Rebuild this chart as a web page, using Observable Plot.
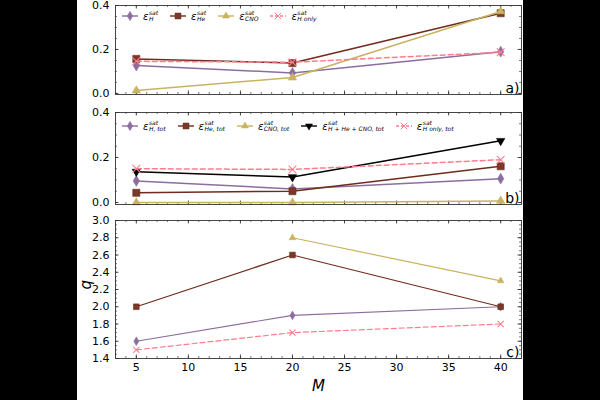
<!DOCTYPE html>
<html><head><meta charset="utf-8">
<script src="https://cdn.jsdelivr.net/npm/d3@7"></script>
<script src="https://cdn.jsdelivr.net/npm/@observablehq/plot@0.6"></script>
<style>
html,body{margin:0;padding:0;background:#000;width:600px;height:400px;overflow:hidden;}
#fig{position:absolute;left:77px;top:0;width:446px;height:400px;background:#fff;font-family:"DejaVu Sans",sans-serif;}
#fig svg{position:absolute;left:0;overflow:visible;}
.legend{position:absolute;left:45px;display:flex;align-items:center;gap:12px;}
.item{display:flex;align-items:center;gap:5px;}
.lab{display:inline-flex;align-items:center;font-style:italic;font-size:10px;color:#000;}
.ss{display:inline-flex;flex-direction:column;font-size:6px;line-height:6px;margin-left:0.5px;}
</style></head>
<body><div id="fig"></div>
<script>
// ---- data ----
const M = [5, 20, 40];
const xTicks = [5, 10, 15, 20, 25, 30, 35, 40];
const yTicksAB = [0.0, 0.2, 0.4];
const yTicksC = [1.4, 1.6, 1.8, 2.0, 2.2, 2.4, 2.6, 2.8, 3.0];

// panel a: epsilon^sat
const epsH     = [0.127, 0.093, 0.190];
const epsHe    = [0.157, 0.138, 0.365];
const epsCNO   = [0.013, 0.072, 0.373];
const epsHonly = [0.146, 0.142, 0.187];
// panel b: epsilon^sat_tot
const epsHtot     = [0.096, 0.060, 0.106];
const epsHetot    = [0.043, 0.050, 0.161];
const epsCNOtot   = [0.000, 0.000, 0.007];
const epsAlltot   = [0.137, 0.113, 0.274];
const epsHonlytot = [0.150, 0.147, 0.190];
// panel c: q
const qH     = [1.6, 1.9, 2.0];
const qHe    = [2.0, 2.6, 2.0];
const qCNO   = [null, 2.8, 2.3];
const qHonly = [1.5, 1.7, 1.8];

// ---- styles ----
const downTriangle = {draw(ctx, size){
  const y = -Math.sqrt(size / (Math.sqrt(3) * 3));
  ctx.moveTo(0, -y * 2);
  ctx.lineTo(-Math.sqrt(3) * y, y);
  ctx.lineTo(Math.sqrt(3) * y, y);
  ctx.closePath();
}};
const symbols = {diamond:d3.symbolDiamond, square:d3.symbolSquare, triangle:d3.symbolTriangle, times:d3.symbolTimes, down:downTriangle};
const sH    = {color:"#8c6e9e", symbol:"diamond", r:3.3};
const sHe   = {color:"#6e2c1d", fillc:"#7a3828", symbol:"square", r:4};
const sCNO  = {color:"#c8b35f", symbol:"triangle", r:3.1};
const sAll  = {color:"#000000", symbol:"down", r:3.1};
const sHon  = {color:"#ff7d8e", symbol:"times", r:3.6, hollow:true, dash:"5,3"};

const W = 446, ML = 38, MR = 2;
const fig = document.getElementById("fig");

function panel(o){
  const iw = W - ML - MR, ih = o.height - o.mt - o.mb;
  const tc = "#222", tw = 0.8;
  const marks = [];
  const xMinor = d3.range(4, 42);
  // inward ticks on all sides
  marks.push(Plot.tickX(xTicks, {x:d=>d, insetTop: ih-3.5, stroke:tc, strokeWidth:tw}));
  marks.push(Plot.tickX(xTicks, {x:d=>d, insetBottom: ih-3.5, stroke:tc, strokeWidth:tw}));
  marks.push(Plot.tickX(xMinor, {x:d=>d, insetTop: ih-2, stroke:tc, strokeWidth:0.6}));
  marks.push(Plot.tickX(xMinor, {x:d=>d, insetBottom: ih-2, stroke:tc, strokeWidth:0.6}));
  marks.push(Plot.tickY(o.yTicks, {y:d=>d, insetRight: iw-3.5, stroke:tc, strokeWidth:tw}));
  marks.push(Plot.tickY(o.yTicks, {y:d=>d, insetLeft: iw-3.5, stroke:tc, strokeWidth:tw}));
  marks.push(Plot.tickY(o.yMinor, {y:d=>d, insetRight: iw-2, stroke:tc, strokeWidth:0.6}));
  marks.push(Plot.tickY(o.yMinor, {y:d=>d, insetLeft: iw-2, stroke:tc, strokeWidth:0.6}));
  for (const s of o.series){
    const rows = M.map((m,i)=>({M:m, v:s.values[i]}));
    marks.push(Plot.line(rows, {x:"M", y:"v", stroke:s.color, strokeWidth:o.sw, strokeDasharray:s.dash}));
    const pts = rows.filter(d=>d.v!=null);
    marks.push(Plot.dot(pts, {x:"M", y:"v", symbol:symbols[s.symbol], r:s.r*o.rs,
      fill: s.hollow ? "none" : (s.fillc || s.color), stroke:s.color, strokeWidth: s.hollow ? 1.1 : 0.6}));
  }
  marks.push(Plot.frame({stroke:"#333", strokeWidth:0.9}));
  marks.push(Plot.axisY(o.yTicks, {tickSize:0, tickPadding:6, tickFormat:d3.format(".1f"), fontSize:11, label:null}));
  if (o.xLabels){
    marks.push(Plot.axisX(xTicks, {tickSize:0, tickPadding:5, fontSize:11, label:null}));
    marks.push(Plot.text(["M"], {frameAnchor:"bottom", dy:28, fontSize:15, fontStyle:"italic", lineAnchor:"middle"}));
    marks.push(Plot.text(["q"], {frameAnchor:"left", dx:-29, rotate:-90, fontSize:15, fontStyle:"italic"}));
  }
  marks.push(Plot.text([o.label], {frameAnchor:"bottom-right", dx:-2, dy:-2, fontSize:14, textAnchor:"end", lineAnchor:"bottom"}));
  const svg = Plot.plot({
    width: W, height: o.height,
    marginLeft: ML, marginRight: MR, marginTop: o.mt, marginBottom: o.mb,
    style: {fontFamily:"DejaVu Sans", color:"#000", background:"transparent", overflow:"visible"},
    x: {domain:[3, 42], axis:null},
    y: {domain:o.yDomain, axis:null},
    marks
  });
  svg.style.top = o.top + "px";
  fig.appendChild(svg);
}

function legend(items, top){
  const div = document.createElement("div");
  div.className = "legend";
  div.style.top = top + "px";
  for (const it of items){
    const s = it.s;
    const item = document.createElement("div");
    item.className = "item";
    const rr = s.r * 0.85;
    const path = d3.symbol(symbols[s.symbol], Math.PI * rr * rr)();
    item.innerHTML =
      `<svg width="16" height="10" style="position:static;overflow:visible">
        <line x1="0" x2="16" y1="5" y2="5" stroke="${s.color}" stroke-width="1.4" ${s.dash?'stroke-dasharray="3,2"':''}/>
        <path transform="translate(8,5)" d="${path}" fill="${s.hollow?'none':(s.fillc||s.color)}" stroke="${s.color}" stroke-width="${s.hollow?1:0.5}"/>
      </svg>
      <span class="lab">ε<span class="ss"><span>sat</span><span>${it.sub}</span></span></span>`;
    div.appendChild(item);
  }
  fig.appendChild(div);
}

panel({top:0, height:100, mt:5, mb:6, yDomain:[-0.005, 0.4], yTicks:yTicksAB, yMinor:d3.range(0, 0.401, 0.05),
  sw:1.5, rs:1, label:"a)",
  series:[{...sH, values:epsH}, {...sHe, values:epsHe}, {...sCNO, values:epsCNO}, {...sHon, values:epsHonly}]});
panel({top:100, height:110, mt:12, mb:6, yDomain:[-0.009, 0.4], yTicks:yTicksAB, yMinor:d3.range(0, 0.401, 0.05),
  sw:1.5, rs:1, label:"b)",
  series:[{...sH, values:epsHtot}, {...sHe, values:epsHetot}, {...sCNO, values:epsCNOtot}, {...sAll, values:epsAlltot}, {...sHon, values:epsHonlytot}]});
panel({top:210, height:190, mt:10, mb:42, yDomain:[1.4, 3.0], yTicks:yTicksC, yMinor:d3.range(1.4, 3.001, 0.05),
  sw:1.2, rs:0.8, label:"c)", xLabels:true,
  series:[{...sH, values:qH}, {...sHe, values:qHe}, {...sCNO, values:qCNO}, {...sHon, values:qHonly}]});

legend([{s:sH, sub:"H"}, {s:sHe, sub:"He"}, {s:sCNO, sub:"CNO"}, {s:sHon, sub:"H only"}], 10);
legend([{s:sH, sub:"H, tot"}, {s:sHe, sub:"He, tot"}, {s:sCNO, sub:"CNO, tot"}, {s:sAll, sub:"H + He + CNO, tot"}, {s:sHon, sub:"H only, tot"}], 120);
</script></body></html>
